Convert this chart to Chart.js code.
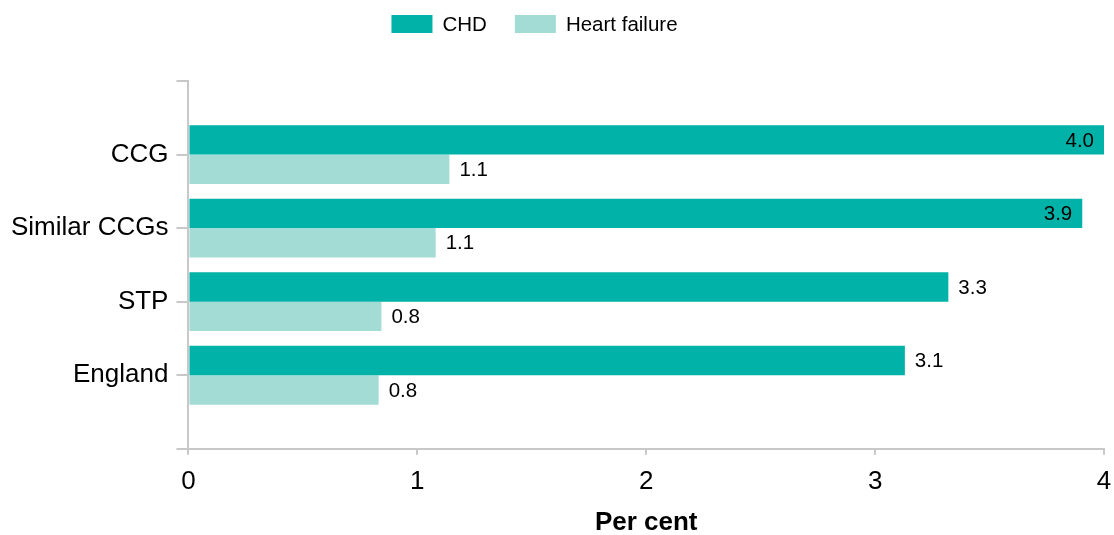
<!DOCTYPE html>
<html>
<head>
<meta charset="utf-8">
<title>CHD and heart failure prevalence</title>
<script src="https://cdn.jsdelivr.net/npm/chart.js@4/dist/chart.umd.min.js"></script>
<style>
    body { margin: 0; background: #fff; }
    #wrap { width: 1114px; height: 535px; }
</style>
</head>
<body>
<div id="wrap"><canvas id="prevChart" width="1114" height="535"></canvas></div>
<script>
// data
const areas = ['CCG', 'Similar CCGs', 'STP', 'England'];
const chdValues = [4.0, 3.905, 3.32, 3.13];
const heartFailureValues = [1.14, 1.08, 0.843, 0.831];
const xTicks = [0, 1, 2, 3, 4];

const FONT = "'Liberation Sans', Arial, sans-serif";
const axisGrey = '#c8c8c8';

// blank slot above and below so the axis runs past the first/last bar pair
const yLabels = [''].concat(areas, ['']);
const pad = arr => [null].concat(arr, [null]);

// value labels at the end of each bar (inside when there is no room)
const valueLabels = {
    id: 'valueLabels',
    afterDatasetsDraw(chart) {
        const ctx = chart.ctx;
        ctx.save();
        ctx.font = '20.5px ' + FONT;
        ctx.fillStyle = '#000';
        ctx.textBaseline = 'middle';
        chart.data.datasets.forEach((ds, i) => {
            chart.getDatasetMeta(i).data.forEach((bar, j) => {
                const v = ds.data[j];
                if (v === null || v === undefined) return;
                const txt = v.toFixed(1);
                const w = ctx.measureText(txt).width;
                if (bar.x + 10 + w > chart.width - 4) {
                    ctx.textAlign = 'right';
                    ctx.fillText(txt, bar.x - 10, bar.y + 1);
                } else {
                    ctx.textAlign = 'left';
                    ctx.fillText(txt, bar.x + 10, bar.y + 1);
                }
            });
        });
        ctx.restore();
    }
};

// legend drawn by hand so it sits where the original one does
const topLegend = {
    id: 'topLegend',
    afterDraw(chart) {
        const ctx = chart.ctx;
        const boxW = 41, boxH = 18, gap = 10, itemGap = 28;
        ctx.save();
        ctx.font = '20.5px ' + FONT;
        const items = chart.data.datasets.map(ds => ({
            label: ds.label,
            color: ds.backgroundColor,
            w: ctx.measureText(ds.label).width
        }));
        let total = 0;
        items.forEach((it, k) => {
            total += boxW + gap + it.w + (k ? itemGap : 0);
        });
        let x = 534.5 - total / 2;
        const cy = 24;
        ctx.textBaseline = 'middle';
        ctx.textAlign = 'left';
        items.forEach(it => {
            ctx.fillStyle = it.color;
            ctx.fillRect(x, cy - boxH / 2, boxW, boxH);
            ctx.fillStyle = '#000';
            ctx.fillText(it.label, x + boxW + gap, cy + 1);
            x += boxW + gap + it.w + itemGap;
        });
        ctx.restore();
    }
};

const ctx = document.getElementById('prevChart').getContext('2d');
const prevChart = new Chart(ctx, {
    type: 'bar',
    data: {
        labels: yLabels,
        datasets: [
            {
                label: 'CHD',
                data: pad(chdValues),
                backgroundColor: '#00b2a7',
                categoryPercentage: 0.8,
                barPercentage: 1.0
            },
            {
                label: 'Heart failure',
                data: pad(heartFailureValues),
                backgroundColor: '#a3dbd5',
                categoryPercentage: 0.8,
                barPercentage: 1.0
            }
        ]
    },
    options: {
        indexAxis: 'y',
        responsive: false,
        animation: false,
        layout: {
            padding: { top: 81, left: 3, right: 10, bottom: -1 }
        },
        plugins: {
            legend: { display: false },
            tooltip: { enabled: false }
        },
        scales: {
            x: {
                min: xTicks[0],
                max: xTicks[xTicks.length - 1],
                afterBuildTicks: axis => {
                    axis.ticks = xTicks.map(v => ({ value: v }));
                },
                // the "4" may hang over the right edge, as in the original
                afterFit: axis => {
                    axis.paddingRight = 0;
                },
                border: { color: axisGrey, width: 2 },
                grid: {
                    drawOnChartArea: false,
                    drawTicks: true,
                    tickLength: 6,
                    color: axisGrey,
                    lineWidth: 2
                },
                ticks: {
                    color: '#000',
                    padding: 11,
                    font: { family: FONT, size: 26 }
                },
                title: {
                    display: true,
                    text: 'Per cent',
                    color: '#000',
                    padding: { top: 2, bottom: 0 },
                    font: { family: FONT, size: 26, weight: 'bold', lineHeight: 1.0 }
                }
            },
            y: {
                offset: false,
                border: { color: axisGrey, width: 2 },
                grid: {
                    offset: false,
                    drawOnChartArea: false,
                    drawTicks: true,
                    tickLength: 12,
                    color: axisGrey,
                    lineWidth: 2
                },
                ticks: {
                    autoSkip: false,
                    color: '#000',
                    padding: 8,
                    font: { family: FONT, size: 26 }
                }
            }
        }
    },
    plugins: [valueLabels, topLegend]
});
</script>
</body>
</html>
